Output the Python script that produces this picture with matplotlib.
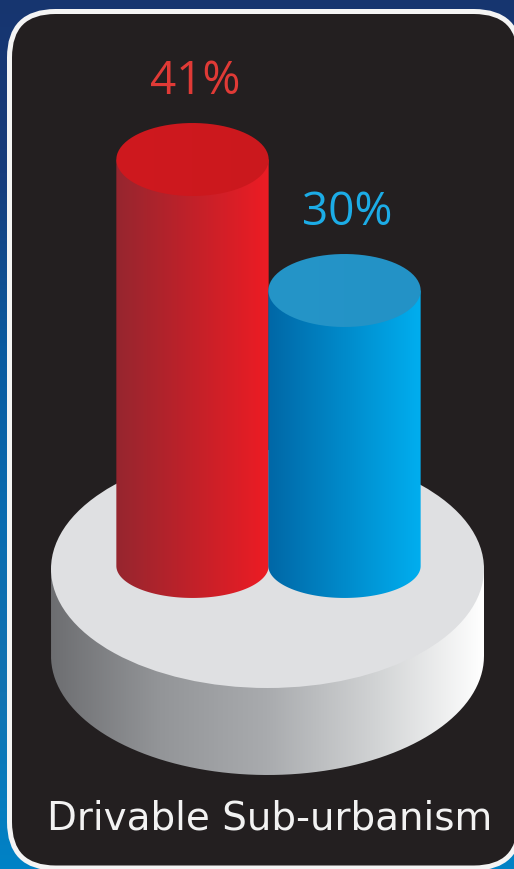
import numpy as np
import matplotlib
matplotlib.use("Agg")
import matplotlib.pyplot as plt
from matplotlib.colors import LinearSegmentedColormap
from matplotlib.patches import Ellipse, FancyBboxPatch, PathPatch, BoxStyle
from matplotlib.path import Path

# Chart data
categories = ["Red", "Blue"]
values = [41, 30]
value_labels = ["41%", "30%"]
caption = "Drivable Sub-urbanism"

# Styling
SIDE_COLORS = [("#96262f", "#ed1c24"), ("#0067a6", "#00aeef")]
TOP_COLORS = [("#cf191f", "#cb181d"), ("#2595c8", "#2392c6")]
LABEL_COLORS = ["#e03a36", "#1cace6"]
PANEL = "#231f20"
BASELINE = 6.87

W, H = 514, 869
fig = plt.figure(figsize=(W / 100, H / 100), dpi=100)

# Backdrop axes, measured in pixels from the top-left corner
bg = fig.add_axes([0, 0, 1, 1])
bg.set_xlim(0, W)
bg.set_ylim(H, 0)
bg.axis("off")

sky = LinearSegmentedColormap.from_list(
    "sky", ["#16356f", "#173c7c", "#0a5a9f", "#0a6cb0", "#1273b2", "#0082c6"])
bg.imshow(np.linspace(0, 1, 256)[:, None], cmap=sky, extent=(0, W, H, 0), aspect="auto", zorder=0)
bg.set_xlim(0, W)
bg.set_ylim(H, 0)

r = 46
bg.add_patch(FancyBboxPatch(
    (9.5 + r, 11.5 + r), 520 - 9.5 - 2 * r, 868 - 11.5 - 2 * r,
    boxstyle=BoxStyle("Round", pad=r, rounding_size=r),
    facecolor=PANEL, edgecolor="#f4f4f4", linewidth=3.6, zorder=1))


def elliptic_path(cx, cy, rx, ry, n=160):
    t = np.linspace(0, 2 * np.pi, n)
    return np.column_stack([cx + rx * np.cos(t), cy + ry * np.sin(t)])


def shaded(ax, outline, cmap, zorder):
    """Fill a closed outline with a left-to-right gradient."""
    patch = PathPatch(Path(outline), facecolor="none", edgecolor="none", transform=ax.transData)
    ax.add_patch(patch)
    x0, x1 = outline[:, 0].min(), outline[:, 0].max()
    y0, y1 = outline[:, 1].min(), outline[:, 1].max()
    lims = ax.get_xlim(), ax.get_ylim()
    im = ax.imshow(np.linspace(0, 1, 256)[None, :], cmap=cmap, extent=(x0, x1, y0, y1),
                   aspect="auto", origin="lower", zorder=zorder, interpolation="bilinear")
    im.set_clip_path(patch)
    ax.set_xlim(lims[0])
    ax.set_ylim(lims[1])


# Round platform under the cylinders; the side fill runs up behind the top disc
px, py, prx, pry, depth = 267.5, 569, 216.5, 119, 87
t = np.linspace(0, np.pi, 160)
front = np.column_stack([px + prx * np.cos(t), py + pry * np.sin(t) + depth])
side_outline = np.vstack([[[px + prx, py], [px - prx, py]], front[::-1]])
grey = LinearSegmentedColormap.from_list("grey", ["#6d6e71", "#939598", "#a9abae", "#d1d3d4", "#ffffff"])
shaded(bg, side_outline, grey, 2)
bg.add_patch(Ellipse((px, py), 2 * prx, 2 * pry, facecolor="#dfe0e2", edgecolor="none", zorder=3))

bg.text(270, 830, caption, color="#f2f2f2", fontsize=28, family="DejaVu Sans",
        ha="center", va="baseline", zorder=6)

# Chart axes: x holds the category index, y holds the percentage
ax = fig.add_axes([0, 0, 1, 1])
ax.patch.set_alpha(0)
ax.axis("off")
ax.set_xlim(-192.5 / 152, 321.5 / 152)
ax.set_ylim(41 - (869 - 159.5) / 11.909, 41 + 159.5 / 11.909)

half_width = 0.501
cap_height = 36.5 / 11.909
base_height = 32 / 11.909
for i, (name, value, label) in enumerate(zip(categories, values, value_labels)):
    t = np.linspace(0, np.pi, 120)
    # The y axis points up, so the visible front arc runs below each centre
    bottom = np.column_stack([i + half_width * np.cos(t), BASELINE - base_height * np.sin(t)])
    top_edge = np.array([[i - half_width, value], [i + half_width, value]])
    outline = np.vstack([top_edge, bottom])
    side = LinearSegmentedColormap.from_list(name + "_side", SIDE_COLORS[i])
    shaded(ax, outline, side, 4 + i)

    cap = LinearSegmentedColormap.from_list(name + "_cap", TOP_COLORS[i])
    shaded(ax, elliptic_path(i, value, half_width, cap_height), cap, 4.5 + i)

    ax.annotate(label, (i, value), xytext=(2, 47), textcoords="offset points",
                color=LABEL_COLORS[i], fontsize=33, family="Open Sans",
                ha="center", va="baseline", zorder=7)

fig.savefig("out.png", dpi=100)
